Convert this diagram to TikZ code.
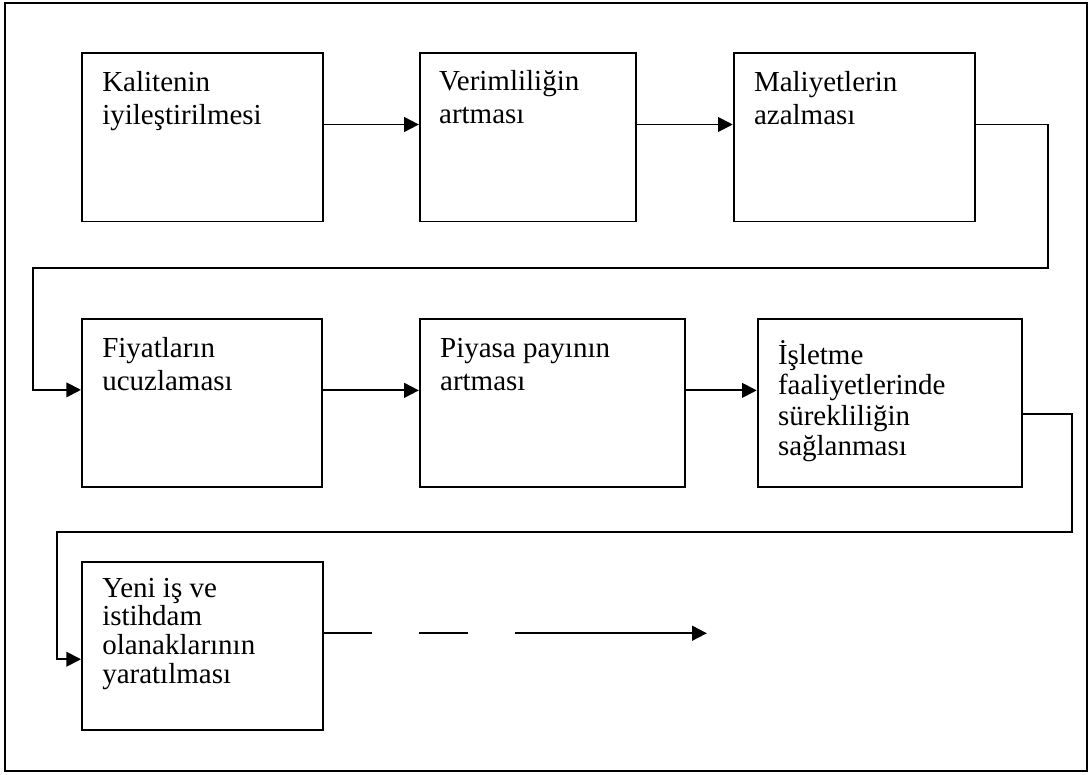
\documentclass[tikz,border=0pt]{standalone}
\usepackage{fontspec}
\setmainfont{Liberation Serif}
\usetikzlibrary{calc,positioning,arrows.meta}
\tikzset{
>={Triangle[length=11pt,width=11pt]},
  stepbox/.style={
    rectangle,
    draw=black, line width=1.4pt,
    minimum height=126pt,
    inner sep=0pt,
    anchor=north west},
  boxtext/.style={
    anchor=base west,
    align=left,
    inner sep=0pt,
    font=\fontsize{21.75pt}{24.75pt}\selectfont},
  tighttext/.style={font=\fontsize{21.75pt}{22.75pt}\selectfont},
  tightertext/.style={font=\fontsize{21.75pt}{21.5pt}\selectfont},
  link/.style={draw, line width=1.4pt, ->},
  frame/.style={draw, line width=2.2pt},
}

\begin{document}
\begin{tikzpicture}[x=0.75pt, y=-0.75pt]
    \useasboundingbox (0,0) rectangle (1091,774);
    \draw[frame] (5,3) rectangle (1087,771);

    % first row
    \node [stepbox, minimum width=180.75pt](kal) at (81,52.5) {};
    \node [stepbox, minimum width=162pt, right=71.25pt of kal.north east, anchor=north west](ver) {};
    \node [stepbox, minimum width=180.75pt, right=72pt of ver.north east, anchor=north west](mal) {};
    % second row
    \node [stepbox, minimum width=180pt, below=72pt of kal.south west, anchor=north west](fiy) {};
    \node [stepbox, minimum width=198.75pt, right=72pt of fiy.north east, anchor=north west](piy) {};
    \node [stepbox, minimum width=198pt, right=53.25pt of piy.north east, anchor=north west](isl) {};
    % third row
    \node [stepbox, minimum width=180.75pt, below=54.75pt of fiy.south west, anchor=north west](yen) {};

    % texts (anchored at the baseline of the last line)
    \node [boxtext](kaltxt) at ($(kal.north west)+(21,72)$) {Kalitenin\\iyileştirilmesi};
    \node [boxtext](vertxt) at ($(ver.north west)+(20,71)$) {Verimliliğin\\artması};
    \node [boxtext](maltxt) at ($(mal.north west)+(21,72)$) {Maliyetlerin\\azalması};
    \node [boxtext](fiytxt) at ($(fiy.north west)+(21,72)$) {Fiyatların\\ucuzlaması};
    \node [boxtext](piytxt) at ($(piy.north west)+(21,72)$) {Piyasa payının\\artması};
    \node [boxtext, tighttext](isltxt) at ($(isl.north west)+(21,137)$) {İşletme\\faaliyetlerinde\\sürekliliğin\\sağlanması};
    \node [boxtext, tightertext](yentxt) at ($(yen.north west)+(21,122)$) {Yeni iş ve\\istihdam\\olanaklarının\\yaratılması};

    \draw[link] ($(kal.north east)+(0,72)$) -- ($(ver.north west)+(0,72)$);
    \draw[link] ($(ver.north east)+(0,72)$) -- ($(mal.north west)+(0,72)$);
    \draw[link] ($(mal.north east)+(0,72)$) -- ++(72,0) |- (33,268) |- ($(fiy.north west)+(0,71.5)$);
    \draw[link] ($(fiy.north east)+(0,72)$) -- ($(piy.north west)+(0,72)$);
    \draw[link] ($(piy.north east)+(0,72)$) -- ($(isl.north west)+(0,72)$);
    \draw[link] ($(isl.north east)+(0,96)$) -- ++(49,0) |- (57,532) |- ($(yen.north west)+(0,98)$);
    \draw[link, dash pattern=on 36pt off 35.25pt on 36.75pt off 35.25pt on 200pt] ($(yen.north east)+(0,72)$) -- ++(383,0);

\end{tikzpicture}
\end{document}
